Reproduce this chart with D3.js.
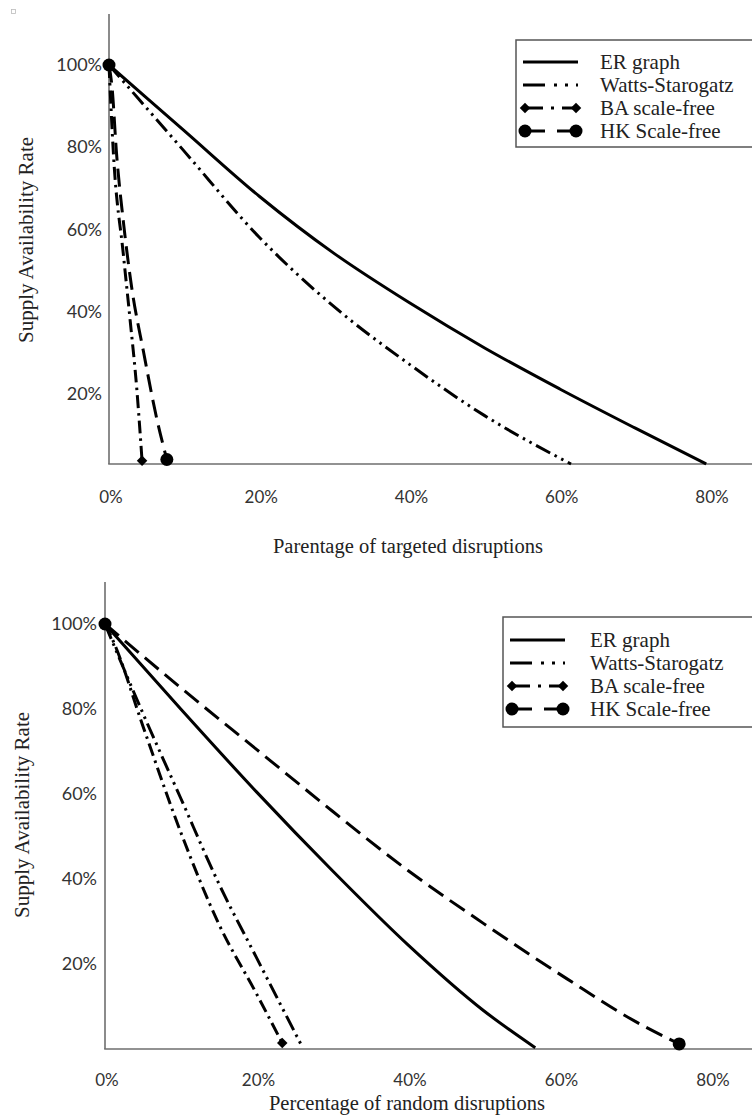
<!DOCTYPE html>
<html>
<head>
<meta charset="utf-8">
<script src="https://cdn.jsdelivr.net/npm/d3@7"></script>
<style>
  body { margin: 0; background: #fff; }
  svg { display: block; }
</style>
</head>
<body>
<div id="chart"></div>
<script>
// tick values and legend names
var xTicks = [0, 0.2, 0.4, 0.6, 0.8];
var yTicks = [0.2, 0.4, 0.6, 0.8, 1.0];
var seriesNames = ["ER graph", "Watts-Starogatz", "BA scale-free", "HK Scale-free"];

// targeted disruptions (x = share disrupted, y = supply availability)
var targetedER    = [[0,1],[0.10,0.84],[0.20,0.68],[0.30,0.54],[0.40,0.42],[0.50,0.31],[0.60,0.21],[0.70,0.115],[0.795,0.027]];
var targetedWatts = [[0,1],[0.10,0.79],[0.20,0.58],[0.30,0.41],[0.40,0.27],[0.50,0.145],[0.615,0.027]];
var targetedBA    = [[0,1],[0.006,0.78],[0.019,0.54],[0.028,0.38],[0.037,0.21],[0.044,0.035]];
var targetedHK    = [[0,1],[0.004,0.947],[0.010,0.785],[0.019,0.62],[0.030,0.46],[0.046,0.30],[0.064,0.134],[0.077,0.038]];

// random disruptions
var randomER    = [[0,1],[0.10,0.80],[0.20,0.605],[0.30,0.42],[0.40,0.245],[0.50,0.09],[0.568,0.003]];
var randomWatts = [[0,1],[0.02,0.915],[0.05,0.79],[0.10,0.59],[0.15,0.39],[0.20,0.215],[0.261,0.003]];
var randomBA    = [[0,1],[0.012,0.955],[0.05,0.76],[0.10,0.51],[0.15,0.295],[0.20,0.13],[0.234,0.014]];
var randomHK    = [[0,1],[0.10,0.85],[0.20,0.705],[0.30,0.56],[0.40,0.42],[0.50,0.295],[0.61,0.165],[0.70,0.065],[0.758,0.012]];

var W = 752, H = 1117;
var svg = d3.select("#chart").append("svg").attr("width", W).attr("height", H);
svg.append("rect").attr("width", W).attr("height", H).attr("fill", "#fff");

// little box in the corner of the scan
svg.append("rect").attr("x", 11.5).attr("y", 9.5).attr("width", 4).attr("height", 4)
  .attr("fill", "none").attr("stroke", "#bbb").attr("stroke-width", 0.8);

var styles = [
  { dash: null, legendDash: null, marker: null },
  { dash: "16,5,2.5,5,2.5,5", legendDash: "22,9,3,8,3,8", marker: null },
  { dash: "13,5,2.5,5", legendDash: "20,8,3,8,20", marker: "diamond" },
  { dash: "18,8", legendDash: "22,12", marker: "circle" }
];

function drawMarker(g, type, cx, cy) {
  if (type == "circle") {
    g.append("circle").attr("cx", cx).attr("cy", cy).attr("r", 6.5).attr("fill", "#000");
  } else if (type == "diamond") {
    g.append("path").attr("d", d3.symbol().type(d3.symbolDiamond2).size(70)())
      .attr("transform", "translate(" + cx + "," + cy + ")").attr("fill", "#000");
  }
}

function drawPanel(p) {
  var x = d3.scaleLinear().domain([0, 0.8]).range([p.x0, p.x80]);
  var y = d3.scaleLinear().domain([p.yMin, 1]).range([p.yBase, p.y100]);
  var g = svg.append("g");

  // axes
  g.append("line").attr("x1", x(0)).attr("x2", x(0)).attr("y1", p.yTop).attr("y2", y(p.yMin))
    .attr("stroke", "#6e6e6e").attr("stroke-width", 1.6);
  g.append("line").attr("x1", x(0) - 0.8).attr("x2", W).attr("y1", y(p.yMin)).attr("y2", y(p.yMin))
    .attr("stroke", "#6e6e6e").attr("stroke-width", 1.6);

  g.selectAll(".ytick").data(yTicks).enter().append("text")
    .attr("x", p.yLabelRight).attr("y", function(d) { return y(d); })
    .attr("dy", "0.36em").attr("text-anchor", "end")
    .attr("font-family", "Lato, sans-serif").attr("font-size", "18px").attr("fill", "#333")
    .text(d3.format(".0%"));

  g.selectAll(".xtick").data(xTicks).enter().append("text")
    .attr("x", function(d) { return x(d) + 2; }).attr("y", p.xLabelY)
    .attr("dy", "0.36em").attr("text-anchor", "middle")
    .attr("font-family", "Lato, sans-serif").attr("font-size", "17px").attr("fill", "#333")
    .text(d3.format(".0%"));

  // titles
  g.append("text").attr("x", p.xTitleX).attr("y", p.xTitleY).attr("dy", "0.35em")
    .attr("text-anchor", "middle").attr("font-family", "'Liberation Serif', serif")
    .attr("font-size", "20.5px").attr("fill", "#222").text(p.xTitle);
  g.append("text").attr("transform", "translate(" + p.yTitleX + "," + p.yTitleY + ") rotate(-90)")
    .attr("dy", "0.35em").attr("text-anchor", "middle").attr("font-family", "'Liberation Serif', serif")
    .attr("font-size", "21px").attr("fill", "#222").text("Supply Availability Rate");

  var line = d3.line().x(function(d) { return x(d[0]); }).y(function(d) { return y(d[1]); })
    .curve(d3.curveMonotoneX);

  p.series.forEach(function(data, i) {
    var st = styles[i];
    g.append("path").attr("d", line(data)).attr("fill", "none").attr("stroke", "#000")
      .attr("stroke-width", 3).attr("stroke-dasharray", st.dash);
  });
  [2, 3].forEach(function(i) {
    var data = p.series[i];
    drawMarker(g, styles[i].marker, x(data[data.length - 1][0]), y(data[data.length - 1][1]));
    drawMarker(g, styles[i].marker, x(data[0][0]), y(data[0][1]));
  });

  // legend
  var lg = g.append("g");
  lg.append("rect").attr("x", p.legX).attr("y", p.legY).attr("width", W - p.legX + 10).attr("height", p.legH)
    .attr("fill", "#fff").attr("stroke", "#555").attr("stroke-width", 1.5);
  seriesNames.forEach(function(name, i) {
    var ry = p.legY + p.legRow0 + i * p.legStep;
    var st = styles[i];
    lg.append("line").attr("x1", p.legX + p.sampleX1).attr("x2", p.legX + p.sampleX2)
      .attr("y1", ry).attr("y2", ry).attr("stroke", "#000").attr("stroke-width", 3)
      .attr("stroke-dasharray", st.legendDash);
    if (st.marker) {
      drawMarker(lg, st.marker, p.legX + p.sampleX1 + 2, ry);
      drawMarker(lg, st.marker, p.legX + p.sampleX2 - 2, ry);
    }
    lg.append("text").attr("x", p.legX + p.textX).attr("y", ry).attr("dy", "0.33em")
      .attr("font-family", "'Liberation Serif', serif").attr("font-size", "21px").attr("fill", "#222")
      .text(name);
  });
}

drawPanel({
  x0: 109, x80: 710, yMin: 0.027, yBase: 464, y100: 65, yTop: 14,
  yLabelRight: 102, xLabelY: 497,
  xTitle: "Parentage of targeted disruptions", xTitleX: 408, xTitleY: 546,
  yTitleX: 26, yTitleY: 240,
  series: [targetedER, targetedWatts, targetedBA, targetedHK],
  legX: 516, legY: 40, legH: 107, legRow0: 22, legStep: 23, sampleX1: 7, sampleX2: 62, textX: 84
});

drawPanel({
  x0: 105, x80: 711, yMin: 0, yBase: 1049, y100: 624, yTop: 582,
  yLabelRight: 97, xLabelY: 1080,
  xTitle: "Percentage of random disruptions", xTitleX: 407, xTitleY: 1103,
  yTitleX: 22, yTitleY: 815,
  series: [randomER, randomWatts, randomBA, randomHK],
  legX: 503, legY: 617, legH: 110, legRow0: 23, legStep: 23, sampleX1: 7, sampleX2: 62, textX: 87
});
</script>
</body>
</html>
